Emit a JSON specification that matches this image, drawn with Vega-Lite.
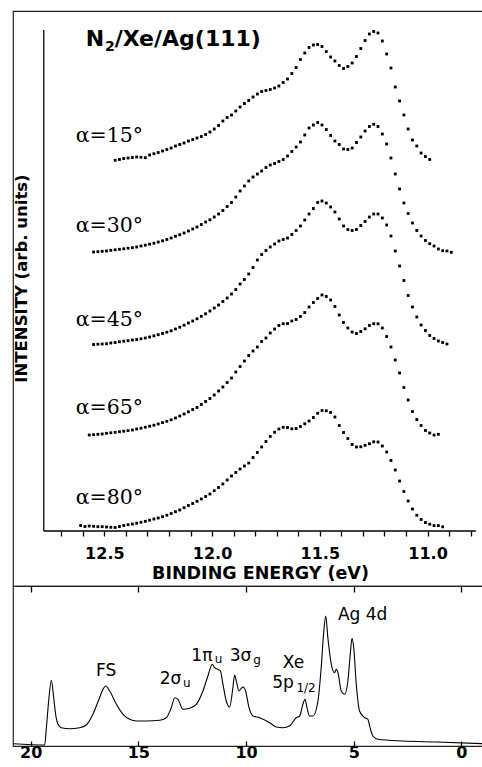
{
"$schema":"https://vega.github.io/schema/vega-lite/v6.json",
"padding":{"left":10,"top":10,"right":0,"bottom":0},
"background":"white",
"spacing":0,
"bounds":"flush",
"config":{"view":{"stroke":"#222","strokeWidth":1.2},"font":"DejaVu Sans","axis":{"domainColor":"black","tickColor":"black","labelColor":"black","titleColor":"black","labelOverlap":false}},
"datasets":{
"dots":[
{"angle":"15","energy":12.45,"intensity":370.7},{"angle":"15","energy":12.43,"intensity":371.5},{"angle":"15","energy":12.41,"intensity":372.5},{"angle":"15","energy":12.39,"intensity":373},{"angle":"15","energy":12.37,"intensity":373.5},{"angle":"15","energy":12.35,"intensity":374},{"angle":"15","energy":12.33,"intensity":373.7},{"angle":"15","energy":12.31,"intensity":373.3},{"angle":"15","energy":12.29,"intensity":376},{"angle":"15","energy":12.27,"intensity":377.3},{"angle":"15","energy":12.25,"intensity":378.5},{"angle":"15","energy":12.23,"intensity":380},{"angle":"15","energy":12.21,"intensity":381.5},{"angle":"15","energy":12.19,"intensity":383},{"angle":"15","energy":12.17,"intensity":385},{"angle":"15","energy":12.15,"intensity":386.5},{"angle":"15","energy":12.13,"intensity":388},{"angle":"15","energy":12.11,"intensity":390},{"angle":"15","energy":12.09,"intensity":391.5},{"angle":"15","energy":12.07,"intensity":393},{"angle":"15","energy":12.05,"intensity":394.5},{"angle":"15","energy":12.03,"intensity":396.5},{"angle":"15","energy":12.01,"intensity":399},{"angle":"15","energy":11.99,"intensity":402},{"angle":"15","energy":11.97,"intensity":405.5},{"angle":"15","energy":11.95,"intensity":410},{"angle":"15","energy":11.93,"intensity":413.5},{"angle":"15","energy":11.91,"intensity":416},{"angle":"15","energy":11.89,"intensity":420},{"angle":"15","energy":11.87,"intensity":424},{"angle":"15","energy":11.85,"intensity":427.5},{"angle":"15","energy":11.83,"intensity":430.5},{"angle":"15","energy":11.81,"intensity":434},{"angle":"15","energy":11.79,"intensity":437},{"angle":"15","energy":11.77,"intensity":439.5},{"angle":"15","energy":11.75,"intensity":440.5},{"angle":"15","energy":11.73,"intensity":441.5},{"angle":"15","energy":11.71,"intensity":443},{"angle":"15","energy":11.69,"intensity":445},{"angle":"15","energy":11.67,"intensity":448.5},{"angle":"15","energy":11.65,"intensity":452},{"angle":"15","energy":11.63,"intensity":457.5},{"angle":"15","energy":11.61,"intensity":463.5},{"angle":"15","energy":11.59,"intensity":471.5},{"angle":"15","energy":11.57,"intensity":478},{"angle":"15","energy":11.55,"intensity":483.5},{"angle":"15","energy":11.53,"intensity":486},{"angle":"15","energy":11.51,"intensity":486.5},{"angle":"15","energy":11.49,"intensity":484.5},{"angle":"15","energy":11.47,"intensity":479.5},{"angle":"15","energy":11.45,"intensity":474},{"angle":"15","energy":11.43,"intensity":470},{"angle":"15","energy":11.41,"intensity":465.5},{"angle":"15","energy":11.39,"intensity":462.5},{"angle":"15","energy":11.37,"intensity":464.5},{"angle":"15","energy":11.35,"intensity":468},{"angle":"15","energy":11.33,"intensity":474.5},{"angle":"15","energy":11.31,"intensity":482.5},{"angle":"15","energy":11.29,"intensity":490.5},{"angle":"15","energy":11.27,"intensity":497},{"angle":"15","energy":11.25,"intensity":499.5},{"angle":"15","energy":11.23,"intensity":498},{"angle":"15","energy":11.21,"intensity":490},{"angle":"15","energy":11.19,"intensity":477},{"angle":"15","energy":11.17,"intensity":463},{"angle":"15","energy":11.15,"intensity":444},{"angle":"15","energy":11.13,"intensity":430},{"angle":"15","energy":11.11,"intensity":416},{"angle":"15","energy":11.09,"intensity":402},{"angle":"15","energy":11.07,"intensity":391},{"angle":"15","energy":11.05,"intensity":385},{"angle":"15","energy":11.03,"intensity":378},{"angle":"15","energy":11.01,"intensity":374.5},{"angle":"15","energy":10.99,"intensity":371.5},
{"angle":"30","energy":12.55,"intensity":279},{"angle":"30","energy":12.53,"intensity":279.3},{"angle":"30","energy":12.51,"intensity":279.7},{"angle":"30","energy":12.49,"intensity":280},{"angle":"30","energy":12.47,"intensity":280.7},{"angle":"30","energy":12.45,"intensity":281.2},{"angle":"30","energy":12.43,"intensity":281.7},{"angle":"30","energy":12.41,"intensity":282.2},{"angle":"30","energy":12.39,"intensity":282.8},{"angle":"30","energy":12.37,"intensity":283.3},{"angle":"30","energy":12.35,"intensity":284},{"angle":"30","energy":12.33,"intensity":285},{"angle":"30","energy":12.31,"intensity":285.8},{"angle":"30","energy":12.29,"intensity":286.8},{"angle":"30","energy":12.27,"intensity":287.8},{"angle":"30","energy":12.25,"intensity":289},{"angle":"30","energy":12.23,"intensity":290.2},{"angle":"30","energy":12.21,"intensity":291.5},{"angle":"30","energy":12.19,"intensity":293},{"angle":"30","energy":12.17,"intensity":294.7},{"angle":"30","energy":12.15,"intensity":296.3},{"angle":"30","energy":12.13,"intensity":298},{"angle":"30","energy":12.11,"intensity":300},{"angle":"30","energy":12.09,"intensity":302},{"angle":"30","energy":12.07,"intensity":304},{"angle":"30","energy":12.05,"intensity":306.5},{"angle":"30","energy":12.03,"intensity":309},{"angle":"30","energy":12.01,"intensity":311.2},{"angle":"30","energy":11.99,"intensity":314},{"angle":"30","energy":11.97,"intensity":317},{"angle":"30","energy":11.95,"intensity":320.5},{"angle":"30","energy":11.93,"intensity":324.5},{"angle":"30","energy":11.91,"intensity":328.5},{"angle":"30","energy":11.89,"intensity":334},{"angle":"30","energy":11.87,"intensity":340},{"angle":"30","energy":11.85,"intensity":345},{"angle":"30","energy":11.83,"intensity":350},{"angle":"30","energy":11.81,"intensity":354},{"angle":"30","energy":11.79,"intensity":357},{"angle":"30","energy":11.77,"intensity":360},{"angle":"30","energy":11.75,"intensity":363.5},{"angle":"30","energy":11.73,"intensity":366},{"angle":"30","energy":11.71,"intensity":367.5},{"angle":"30","energy":11.69,"intensity":369.5},{"angle":"30","energy":11.67,"intensity":371.5},{"angle":"30","energy":11.65,"intensity":375},{"angle":"30","energy":11.63,"intensity":379.5},{"angle":"30","energy":11.61,"intensity":384},{"angle":"30","energy":11.59,"intensity":389},{"angle":"30","energy":11.57,"intensity":396},{"angle":"30","energy":11.55,"intensity":403},{"angle":"30","energy":11.53,"intensity":406},{"angle":"30","energy":11.51,"intensity":408.5},{"angle":"30","energy":11.49,"intensity":406},{"angle":"30","energy":11.47,"intensity":401.5},{"angle":"30","energy":11.45,"intensity":395.5},{"angle":"30","energy":11.43,"intensity":390},{"angle":"30","energy":11.41,"intensity":386.5},{"angle":"30","energy":11.39,"intensity":382},{"angle":"30","energy":11.37,"intensity":381.5},{"angle":"30","energy":11.35,"intensity":383},{"angle":"30","energy":11.33,"intensity":388.5},{"angle":"30","energy":11.31,"intensity":394},{"angle":"30","energy":11.29,"intensity":400},{"angle":"30","energy":11.27,"intensity":404.5},{"angle":"30","energy":11.25,"intensity":406.7},{"angle":"30","energy":11.23,"intensity":404.5},{"angle":"30","energy":11.21,"intensity":397},{"angle":"30","energy":11.19,"intensity":387},{"angle":"30","energy":11.17,"intensity":373},{"angle":"30","energy":11.15,"intensity":357},{"angle":"30","energy":11.13,"intensity":342},{"angle":"30","energy":11.11,"intensity":328},{"angle":"30","energy":11.09,"intensity":317.5},{"angle":"30","energy":11.07,"intensity":308},{"angle":"30","energy":11.05,"intensity":300.5},{"angle":"30","energy":11.03,"intensity":295},{"angle":"30","energy":11.01,"intensity":290.5},{"angle":"30","energy":10.99,"intensity":287.3},{"angle":"30","energy":10.97,"intensity":285},{"angle":"30","energy":10.95,"intensity":282},{"angle":"30","energy":10.93,"intensity":280.3},{"angle":"30","energy":10.91,"intensity":280},{"angle":"30","energy":10.89,"intensity":278.7},
{"angle":"45","energy":12.55,"intensity":186.5},{"angle":"45","energy":12.53,"intensity":186.8},{"angle":"45","energy":12.51,"intensity":187},{"angle":"45","energy":12.49,"intensity":187.3},{"angle":"45","energy":12.47,"intensity":188},{"angle":"45","energy":12.45,"intensity":188.5},{"angle":"45","energy":12.43,"intensity":189.2},{"angle":"45","energy":12.41,"intensity":189.8},{"angle":"45","energy":12.39,"intensity":190.3},{"angle":"45","energy":12.37,"intensity":191},{"angle":"45","energy":12.35,"intensity":191.5},{"angle":"45","energy":12.33,"intensity":192.2},{"angle":"45","energy":12.31,"intensity":193},{"angle":"45","energy":12.29,"intensity":194},{"angle":"45","energy":12.27,"intensity":195.2},{"angle":"45","energy":12.25,"intensity":196.3},{"angle":"45","energy":12.23,"intensity":197.5},{"angle":"45","energy":12.21,"intensity":198.8},{"angle":"45","energy":12.19,"intensity":200.2},{"angle":"45","energy":12.17,"intensity":202},{"angle":"45","energy":12.15,"intensity":203.8},{"angle":"45","energy":12.13,"intensity":205.8},{"angle":"45","energy":12.11,"intensity":208},{"angle":"45","energy":12.09,"intensity":210},{"angle":"45","energy":12.07,"intensity":212.2},{"angle":"45","energy":12.05,"intensity":214.7},{"angle":"45","energy":12.03,"intensity":217.2},{"angle":"45","energy":12.01,"intensity":220},{"angle":"45","energy":11.99,"intensity":223},{"angle":"45","energy":11.97,"intensity":226},{"angle":"45","energy":11.95,"intensity":229.5},{"angle":"45","energy":11.93,"intensity":233},{"angle":"45","energy":11.91,"intensity":237},{"angle":"45","energy":11.89,"intensity":241.5},{"angle":"45","energy":11.87,"intensity":247},{"angle":"45","energy":11.85,"intensity":251.5},{"angle":"45","energy":11.83,"intensity":257},{"angle":"45","energy":11.81,"intensity":263.5},{"angle":"45","energy":11.79,"intensity":271},{"angle":"45","energy":11.77,"intensity":276.5},{"angle":"45","energy":11.75,"intensity":280.5},{"angle":"45","energy":11.73,"intensity":284},{"angle":"45","energy":11.71,"intensity":287},{"angle":"45","energy":11.69,"intensity":290},{"angle":"45","energy":11.67,"intensity":291.5},{"angle":"45","energy":11.65,"intensity":293},{"angle":"45","energy":11.63,"intensity":296.5},{"angle":"45","energy":11.61,"intensity":300.5},{"angle":"45","energy":11.59,"intensity":305},{"angle":"45","energy":11.57,"intensity":311},{"angle":"45","energy":11.55,"intensity":317},{"angle":"45","energy":11.53,"intensity":322.5},{"angle":"45","energy":11.51,"intensity":328.5},{"angle":"45","energy":11.49,"intensity":330},{"angle":"45","energy":11.47,"intensity":328},{"angle":"45","energy":11.45,"intensity":324},{"angle":"45","energy":11.43,"intensity":319},{"angle":"45","energy":11.41,"intensity":312},{"angle":"45","energy":11.39,"intensity":305},{"angle":"45","energy":11.37,"intensity":301.5},{"angle":"45","energy":11.35,"intensity":300.5},{"angle":"45","energy":11.33,"intensity":301.5},{"angle":"45","energy":11.31,"intensity":305.5},{"angle":"45","energy":11.29,"intensity":309.5},{"angle":"45","energy":11.27,"intensity":314},{"angle":"45","energy":11.25,"intensity":317},{"angle":"45","energy":11.23,"intensity":317},{"angle":"45","energy":11.21,"intensity":313},{"angle":"45","energy":11.19,"intensity":306},{"angle":"45","energy":11.17,"intensity":295},{"angle":"45","energy":11.15,"intensity":280},{"angle":"45","energy":11.13,"intensity":265},{"angle":"45","energy":11.11,"intensity":250.5},{"angle":"45","energy":11.09,"intensity":235.5},{"angle":"45","energy":11.07,"intensity":224},{"angle":"45","energy":11.05,"intensity":214},{"angle":"45","energy":11.03,"intensity":206},{"angle":"45","energy":11.01,"intensity":200.5},{"angle":"45","energy":10.99,"intensity":195.5},{"angle":"45","energy":10.97,"intensity":192.5},{"angle":"45","energy":10.95,"intensity":190},{"angle":"45","energy":10.93,"intensity":188.5},{"angle":"45","energy":10.91,"intensity":187},
{"angle":"65","energy":12.57,"intensity":96},{"angle":"65","energy":12.55,"intensity":96.3},{"angle":"65","energy":12.53,"intensity":96.7},{"angle":"65","energy":12.51,"intensity":97},{"angle":"65","energy":12.49,"intensity":97.7},{"angle":"65","energy":12.47,"intensity":98.2},{"angle":"65","energy":12.45,"intensity":98.7},{"angle":"65","energy":12.43,"intensity":99.2},{"angle":"65","energy":12.41,"intensity":99.8},{"angle":"65","energy":12.39,"intensity":100.4},{"angle":"65","energy":12.37,"intensity":101},{"angle":"65","energy":12.35,"intensity":102},{"angle":"65","energy":12.33,"intensity":102.8},{"angle":"65","energy":12.31,"intensity":103.8},{"angle":"65","energy":12.29,"intensity":104.8},{"angle":"65","energy":12.27,"intensity":105.8},{"angle":"65","energy":12.25,"intensity":107},{"angle":"65","energy":12.23,"intensity":108.4},{"angle":"65","energy":12.21,"intensity":109.7},{"angle":"65","energy":12.19,"intensity":111.2},{"angle":"65","energy":12.17,"intensity":113},{"angle":"65","energy":12.15,"intensity":115},{"angle":"65","energy":12.13,"intensity":117},{"angle":"65","energy":12.11,"intensity":119.2},{"angle":"65","energy":12.09,"intensity":121.5},{"angle":"65","energy":12.07,"intensity":123.5},{"angle":"65","energy":12.05,"intensity":126.5},{"angle":"65","energy":12.03,"intensity":129.5},{"angle":"65","energy":12.01,"intensity":132.5},{"angle":"65","energy":11.99,"intensity":136},{"angle":"65","energy":11.97,"intensity":140},{"angle":"65","energy":11.95,"intensity":144},{"angle":"65","energy":11.93,"intensity":148.5},{"angle":"65","energy":11.91,"intensity":153},{"angle":"65","energy":11.89,"intensity":159},{"angle":"65","energy":11.87,"intensity":164.5},{"angle":"65","energy":11.85,"intensity":170},{"angle":"65","energy":11.83,"intensity":175.5},{"angle":"65","energy":11.81,"intensity":180},{"angle":"65","energy":11.79,"intensity":184},{"angle":"65","energy":11.77,"intensity":189.5},{"angle":"65","energy":11.75,"intensity":193},{"angle":"65","energy":11.73,"intensity":198},{"angle":"65","energy":11.71,"intensity":202},{"angle":"65","energy":11.69,"intensity":205.5},{"angle":"65","energy":11.67,"intensity":207.3},{"angle":"65","energy":11.65,"intensity":207.5},{"angle":"65","energy":11.63,"intensity":210},{"angle":"65","energy":11.61,"intensity":211.5},{"angle":"65","energy":11.59,"intensity":214.5},{"angle":"65","energy":11.57,"intensity":218.5},{"angle":"65","energy":11.55,"intensity":224},{"angle":"65","energy":11.53,"intensity":228.5},{"angle":"65","energy":11.51,"intensity":232.5},{"angle":"65","energy":11.49,"intensity":236},{"angle":"65","energy":11.47,"intensity":234.5},{"angle":"65","energy":11.45,"intensity":231},{"angle":"65","energy":11.43,"intensity":224.5},{"angle":"65","energy":11.41,"intensity":216},{"angle":"65","energy":11.39,"intensity":208.5},{"angle":"65","energy":11.37,"intensity":203},{"angle":"65","energy":11.35,"intensity":199},{"angle":"65","energy":11.33,"intensity":197.5},{"angle":"65","energy":11.31,"intensity":199.5},{"angle":"65","energy":11.29,"intensity":202.2},{"angle":"65","energy":11.27,"intensity":205.5},{"angle":"65","energy":11.25,"intensity":207.3},{"angle":"65","energy":11.23,"intensity":207.2},{"angle":"65","energy":11.21,"intensity":203},{"angle":"65","energy":11.19,"intensity":194.5},{"angle":"65","energy":11.17,"intensity":184},{"angle":"65","energy":11.15,"intensity":171},{"angle":"65","energy":11.13,"intensity":158},{"angle":"65","energy":11.11,"intensity":143.5},{"angle":"65","energy":11.09,"intensity":131},{"angle":"65","energy":11.07,"intensity":119.5},{"angle":"65","energy":11.05,"intensity":111.5},{"angle":"65","energy":11.03,"intensity":105.5},{"angle":"65","energy":11.01,"intensity":100.5},{"angle":"65","energy":10.99,"intensity":98},{"angle":"65","energy":10.97,"intensity":96},{"angle":"65","energy":10.95,"intensity":96.7},
{"angle":"80","energy":12.61,"intensity":5.5},{"angle":"80","energy":12.59,"intensity":4.5},{"angle":"80","energy":12.57,"intensity":5},{"angle":"80","energy":12.55,"intensity":4.7},{"angle":"80","energy":12.53,"intensity":4.3},{"angle":"80","energy":12.51,"intensity":4.3},{"angle":"80","energy":12.49,"intensity":4},{"angle":"80","energy":12.47,"intensity":3.7},{"angle":"80","energy":12.45,"intensity":3.5},{"angle":"80","energy":12.43,"intensity":4.5},{"angle":"80","energy":12.41,"intensity":5.5},{"angle":"80","energy":12.39,"intensity":6.3},{"angle":"80","energy":12.37,"intensity":7},{"angle":"80","energy":12.35,"intensity":7.8},{"angle":"80","energy":12.33,"intensity":8.7},{"angle":"80","energy":12.31,"intensity":9.7},{"angle":"80","energy":12.29,"intensity":10.8},{"angle":"80","energy":12.27,"intensity":12},{"angle":"80","energy":12.25,"intensity":13},{"angle":"80","energy":12.23,"intensity":14.3},{"angle":"80","energy":12.21,"intensity":15.8},{"angle":"80","energy":12.19,"intensity":17.5},{"angle":"80","energy":12.17,"intensity":19.3},{"angle":"80","energy":12.15,"intensity":21},{"angle":"80","energy":12.13,"intensity":23.3},{"angle":"80","energy":12.11,"intensity":25.5},{"angle":"80","energy":12.09,"intensity":27.5},{"angle":"80","energy":12.07,"intensity":29.7},{"angle":"80","energy":12.05,"intensity":32},{"angle":"80","energy":12.03,"intensity":34.5},{"angle":"80","energy":12.01,"intensity":37},{"angle":"80","energy":11.99,"intensity":40.3},{"angle":"80","energy":11.97,"intensity":43.5},{"angle":"80","energy":11.95,"intensity":47},{"angle":"80","energy":11.93,"intensity":51},{"angle":"80","energy":11.91,"intensity":55},{"angle":"80","energy":11.89,"intensity":58.5},{"angle":"80","energy":11.87,"intensity":62},{"angle":"80","energy":11.85,"intensity":65},{"angle":"80","energy":11.83,"intensity":68},{"angle":"80","energy":11.81,"intensity":73.5},{"angle":"80","energy":11.79,"intensity":78.5},{"angle":"80","energy":11.77,"intensity":84},{"angle":"80","energy":11.75,"intensity":89.5},{"angle":"80","energy":11.73,"intensity":94.5},{"angle":"80","energy":11.71,"intensity":98.7},{"angle":"80","energy":11.69,"intensity":102},{"angle":"80","energy":11.67,"intensity":103.7},{"angle":"80","energy":11.65,"intensity":103.5},{"angle":"80","energy":11.63,"intensity":102.2},{"angle":"80","energy":11.61,"intensity":102.5},{"angle":"80","energy":11.59,"intensity":104.5},{"angle":"80","energy":11.57,"intensity":107.2},{"angle":"80","energy":11.55,"intensity":110},{"angle":"80","energy":11.53,"intensity":113.5},{"angle":"80","energy":11.51,"intensity":117.7},{"angle":"80","energy":11.49,"intensity":120.5},{"angle":"80","energy":11.47,"intensity":120.2},{"angle":"80","energy":11.45,"intensity":118.5},{"angle":"80","energy":11.43,"intensity":114},{"angle":"80","energy":11.41,"intensity":105.5},{"angle":"80","energy":11.39,"intensity":98.5},{"angle":"80","energy":11.37,"intensity":92.5},{"angle":"80","energy":11.35,"intensity":86.5},{"angle":"80","energy":11.33,"intensity":84},{"angle":"80","energy":11.31,"intensity":84.2},{"angle":"80","energy":11.29,"intensity":85.7},{"angle":"80","energy":11.27,"intensity":87.3},{"angle":"80","energy":11.25,"intensity":89.2},{"angle":"80","energy":11.23,"intensity":89},{"angle":"80","energy":11.21,"intensity":85},{"angle":"80","energy":11.19,"intensity":79},{"angle":"80","energy":11.17,"intensity":70.5},{"angle":"80","energy":11.15,"intensity":61},{"angle":"80","energy":11.13,"intensity":50},{"angle":"80","energy":11.11,"intensity":39.5},{"angle":"80","energy":11.09,"intensity":30},{"angle":"80","energy":11.07,"intensity":22},{"angle":"80","energy":11.05,"intensity":15.7},{"angle":"80","energy":11.03,"intensity":11.5},{"angle":"80","energy":11.01,"intensity":8.5},{"angle":"80","energy":10.99,"intensity":6.8},{"angle":"80","energy":10.97,"intensity":5.4},{"angle":"80","energy":10.95,"intensity":5.4},{"angle":"80","energy":10.93,"intensity":4.2}
],
"axisLines":[
{"energy":12.781,"energy2":10.776,"intensity":0,"intensity2":0},
{"energy":12.781,"energy2":12.781,"intensity":0,"intensity2":501}
],
"angleLabels":[
{"label":"α=15°","energy":12.633,"intensity":389},
{"label":"α=30°","energy":12.633,"intensity":299},
{"label":"α=45°","energy":12.633,"intensity":205},
{"label":"α=65°","energy":12.633,"intensity":117},
{"label":"α=80°","energy":12.633,"intensity":27}
],
"titleMain":[
{"label":"N","energy":12.586,"intensity":485},
{"label":"/Xe/Ag(111)","energy":12.452,"intensity":485}
],
"titleSub":[
{"label":"2","energy":12.497,"intensity":480.5}
],
"spectrum":[
{"energy":20.8,"intensity":2.3},{"energy":19.35,"intensity":1.0},{"energy":19.27,"intensity":18.3},{"energy":19.15,"intensity":48.3},{"energy":19.04,"intensity":65.7},{"energy":18.93,"intensity":48.3},{"energy":18.84,"intensity":31.7},{"energy":18.73,"intensity":21.7},{"energy":18.58,"intensity":18.3},{"energy":18.19,"intensity":17.3},{"energy":17.73,"intensity":18.3},{"energy":17.42,"intensity":21},{"energy":17.11,"intensity":31.7},{"energy":16.8,"intensity":48.3},{"energy":16.64,"intensity":56.7},{"energy":16.52,"intensity":60},{"energy":16.33,"intensity":55},{"energy":16.02,"intensity":41.7},{"energy":15.71,"intensity":31.7},{"energy":15.4,"intensity":26.7},{"energy":15.09,"intensity":25},{"energy":14.63,"intensity":25},{"energy":14.01,"intensity":25.7},{"energy":13.7,"intensity":28.3},{"energy":13.47,"intensity":38.3},{"energy":13.31,"intensity":48.3},{"energy":13.16,"intensity":46.7},{"energy":12.93,"intensity":36.7},{"energy":12.62,"intensity":37.7},{"energy":12.31,"intensity":41.7},{"energy":12.0,"intensity":55},{"energy":11.77,"intensity":70},{"energy":11.57,"intensity":81.7},{"energy":11.46,"intensity":78.3},{"energy":11.3,"intensity":76.7},{"energy":11.19,"intensity":75},{"energy":11.07,"intensity":61.7},{"energy":10.92,"intensity":45},{"energy":10.76,"intensity":39},{"energy":10.61,"intensity":58.3},{"energy":10.53,"intensity":71},{"energy":10.45,"intensity":65},{"energy":10.33,"intensity":55},{"energy":10.22,"intensity":57.7},{"energy":10.14,"intensity":59},{"energy":10.02,"intensity":55},{"energy":9.86,"intensity":38.3},{"energy":9.68,"intensity":30},{"energy":9.37,"intensity":28.3},{"energy":8.9,"intensity":23.3},{"energy":8.6,"intensity":19},{"energy":8.29,"intensity":18.3},{"energy":7.98,"intensity":20},{"energy":7.67,"intensity":28.3},{"energy":7.51,"intensity":30},{"energy":7.36,"intensity":41.7},{"energy":7.26,"intensity":46.7},{"energy":7.17,"intensity":38.3},{"energy":7.05,"intensity":30},{"energy":6.89,"intensity":30},{"energy":6.66,"intensity":45},{"energy":6.51,"intensity":78.3},{"energy":6.4,"intensity":111.7},{"energy":6.3,"intensity":130},{"energy":6.2,"intensity":108.3},{"energy":6.04,"intensity":81.7},{"energy":5.89,"intensity":73.3},{"energy":5.81,"intensity":76.7},{"energy":5.73,"intensity":73.3},{"energy":5.58,"intensity":55},{"energy":5.42,"intensity":51.7},{"energy":5.27,"intensity":65},{"energy":5.16,"intensity":91.7},{"energy":5.08,"intensity":107.7},{"energy":5.0,"intensity":98.3},{"energy":4.88,"intensity":61.7},{"energy":4.73,"intensity":35},{"energy":4.49,"intensity":28.3},{"energy":4.34,"intensity":26.7},{"energy":4.26,"intensity":20},{"energy":4.11,"intensity":10},{"energy":3.87,"intensity":6.7},{"energy":2.71,"intensity":5},{"energy":1.17,"intensity":4},{"energy":-1.0,"intensity":2.3}
],
"peakLabels":[
{"label":"FS","energy":16.97,"intensity":70},
{"label":"2σ","energy":14.01,"intensity":62.3},
{"label":"1π","energy":12.54,"intensity":85},
{"label":"3σ","energy":10.76,"intensity":85},
{"label":"Xe","energy":8.29,"intensity":78.3},
{"label":"5p","energy":8.78,"intensity":57.7},
{"label":"Ag 4d","energy":5.73,"intensity":125.7}
],
"peakSubs":[
{"label":"u","energy":12.93,"intensity":59},
{"label":"u","energy":11.45,"intensity":82.7},
{"label":"g","energy":9.66,"intensity":81.7},
{"label":"1/2","energy":7.66,"intensity":54.3}
]
},
"vconcat":[
{
"width":471,"height":575,
"encoding":{
"x":{"field":"energy","type":"quantitative","scale":{"domain":[10.7382,12.9239],"reverse":true,"nice":false,"zero":false},
"axis":{"orient":"bottom","offset":-55,"values":[12.7,12.6,12.5,12.4,12.3,12.2,12.1,12.0,11.9,11.8,11.7,11.6,11.5,11.4,11.3,11.2,11.1,11.0,10.9,10.8],"labelExpr":"(abs(datum.value-12.5)<0.01||abs(datum.value-12)<0.01||abs(datum.value-11.5)<0.01||abs(datum.value-11)<0.01) ? format(datum.value,'.1f') : ''","domain":false,"grid":false,"tickSize":5,"tickWidth":1.3,"labelFont":"DejaVu Sans","labelFontWeight":"bold","labelFontSize":16,"labelPadding":9,"labelFlush":false,"labelOverlap":false,"title":"BINDING ENERGY (eV)","titleFont":"DejaVu Sans","titleFontWeight":"bold","titleFontSize":17.5,"titlePadding":3,"titleX":247}},
"y":{"field":"intensity","type":"quantitative","scale":{"domain":[-55,520],"nice":false,"zero":false},
"axis":{"orient":"left","offset":-31,"domain":false,"ticks":false,"labels":false,"grid":false,"title":"INTENSITY (arb. units)","titleFont":"DejaVu Sans","titleFontWeight":"bold","titleFontSize":16.5,"titlePadding":15,"titleY":267}}
},
"layer":[
{"data":{"name":"dots"},"mark":{"type":"square","size":8,"color":"black","opacity":1},
"encoding":{"detail":{"field":"angle","type":"nominal"}}},
{"data":{"name":"axisLines"},"mark":{"type":"rule","color":"black","strokeWidth":1.3},
"encoding":{"x2":{"field":"energy2"},"y2":{"field":"intensity2"}}},
{"data":{"name":"angleLabels"},"mark":{"type":"text","font":"DejaVu Serif","fontSize":20.5,"align":"left","baseline":"alphabetic","color":"black"},
"encoding":{"text":{"field":"label"}}},
{"data":{"name":"titleMain"},"mark":{"type":"text","font":"DejaVu Sans","fontWeight":"bold","fontSize":22,"align":"left","baseline":"alphabetic","color":"black"},
"encoding":{"text":{"field":"label"}}},
{"data":{"name":"titleSub"},"mark":{"type":"text","font":"DejaVu Sans","fontWeight":"bold","fontSize":14,"align":"left","baseline":"alphabetic","color":"black"},
"encoding":{"text":{"field":"label"}}}
]
},
{
"width":471,"height":160,
"layer":[
{"data":{"name":"spectrum"},"mark":{"type":"line","color":"black","strokeWidth":1.1,"interpolate":"monotone"},
"encoding":{
"x":{"field":"energy","type":"quantitative","scale":{"domain":[-1.05,20.82],"reverse":true,"nice":false,"zero":false},
"axis":{"orient":"bottom","values":[20,15,10,5,0],"domain":false,"grid":false,"tickSize":-5,"tickWidth":1.3,"labelFont":"DejaVu Sans","labelFontWeight":"bold","labelFontSize":16,"labelPadding":3,"labelFlush":false,"title":null}},
"y":{"field":"intensity","type":"quantitative","scale":{"domain":[0,160],"nice":false,"zero":false},"axis":null}}},
{"data":{"name":"peakLabels"},"mark":{"type":"text","font":"DejaVu Sans","fontSize":17,"align":"left","baseline":"alphabetic","color":"black"},
"encoding":{"x":{"field":"energy","type":"quantitative","axis":{"orient":"top","values":[20,15,10,5,0],"domain":false,"grid":false,"labels":false,"tickSize":-6,"tickWidth":1.3,"title":null}},"y":{"field":"intensity","type":"quantitative","axis":null},"text":{"field":"label"}}},
{"data":{"name":"peakSubs"},"mark":{"type":"text","font":"DejaVu Sans","fontSize":12,"align":"left","baseline":"alphabetic","color":"black"},
"encoding":{"x":{"field":"energy","type":"quantitative","axis":null},"y":{"field":"intensity","type":"quantitative","axis":null},"text":{"field":"label"}}}
]
}
]
}
